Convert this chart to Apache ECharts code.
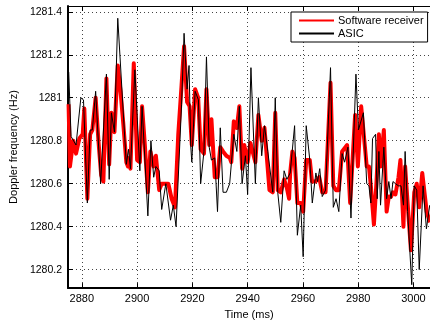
<!DOCTYPE html>
<html>
<head>
<meta charset="utf-8">
<script src="https://cdn.jsdelivr.net/npm/echarts@6/dist/echarts.min.js"></script>
<style>
    html, body { margin: 0; padding: 0; background: #fff; }
    #chart { width: 430px; height: 325px; }
</style>
</head>
<body>
<div id="chart"></div>
<script>
// tick positions
var xTicks = [2880, 2900, 2920, 2940, 2960, 2980, 3000];
var yTicks = [1280.2, 1280.4, 1280.6, 1280.8, 1281, 1281.2, 1281.4];

// software receiver (red)
var swTime = [2875.2, 2875.7, 2876.9, 2877.9, 2879.1, 2880.3, 2880.9, 2882.0, 2883.0, 2883.8, 2885.0, 2886.0, 2887.0, 2887.8,
    2888.9, 2889.9, 2890.7, 2891.8, 2893.0, 2894.0, 2895.0, 2896.1, 2896.7, 2897.0, 2897.6, 2898.8, 2900.0, 2901.0,
    2901.8, 2902.8, 2903.9, 2904.8, 2906.0, 2906.8, 2908.0, 2908.9, 2910.4, 2911.3, 2912.5, 2913.7, 2914.9, 2916.1,
    2917.0, 2918.1, 2919.0, 2919.8, 2921.0, 2922.1, 2923.0, 2924.2, 2925.1, 2926.1, 2926.9, 2928.1, 2929.1, 2930.1,
    2931.1, 2932.3, 2933.5, 2934.1, 2935.0, 2936.1, 2937.0, 2938.0, 2938.8, 2940.0, 2941.0, 2942.8, 2943.9, 2945.1,
    2946.1, 2947.9, 2949.1, 2950.0, 2950.9, 2952.0, 2953.2, 2954.2, 2955.0, 2955.4, 2956.2, 2957.0, 2958.0, 2959.2,
    2960.1, 2961.2, 2962.5, 2963.3, 2964.6, 2965.9, 2967.0, 2968.2, 2970.0, 2971.0, 2972.0, 2973.0, 2974.2, 2976.0,
    2977.1, 2978.9, 2979.9, 2981.1, 2983.1, 2983.9, 2984.6, 2985.7, 2986.6, 2987.5, 2988.1, 2989.3, 2990.3, 2991.1,
    2991.9, 2992.6, 2993.5, 2994.6, 2995.3, 2996.4, 2997.0, 2997.9, 2999.1, 3000.3, 3001.2, 3002.1, 3003.2, 3004.8, 3006.0];
var swFreq = [1280.97, 1280.68, 1280.80, 1280.74, 1280.81, 1280.83, 1280.95, 1280.53, 1280.83, 1280.85, 1281.00, 1280.80, 1280.64, 1280.61,
    1281.09, 1280.69, 1280.93, 1280.84, 1281.15, 1281.03, 1280.88, 1280.70, 1280.68, 1280.72, 1280.67, 1281.16, 1280.71, 1280.70,
    1280.96, 1280.78, 1280.56, 1280.75, 1280.68, 1280.73, 1280.57, 1280.60, 1280.60, 1280.60, 1280.53, 1280.49, 1280.83, 1281.06,
    1281.24, 1280.98, 1280.96, 1280.78, 1281.04, 1281.00, 1280.76, 1280.74, 1281.04, 1280.78, 1280.90, 1280.63, 1280.63, 1280.77,
    1280.75, 1280.73, 1280.72, 1280.70, 1280.89, 1280.86, 1280.96, 1280.67, 1280.78, 1280.70, 1280.79, 1280.70, 1280.92, 1280.80,
    1280.86, 1280.57, 1280.56, 1280.93, 1280.57, 1280.56, 1280.62, 1280.58, 1280.53, 1280.65, 1280.75, 1280.72, 1280.51, 1280.51,
    1280.47, 1280.71, 1280.71, 1280.61, 1280.61, 1280.63, 1280.56, 1280.56, 1281.07, 1280.59, 1280.57, 1280.57, 1280.75, 1280.78,
    1280.51, 1280.92, 1280.68, 1280.96, 1280.68, 1280.68, 1280.59, 1280.41, 1280.60, 1280.83, 1280.68, 1280.85, 1280.47, 1280.54,
    1280.54, 1280.56, 1280.55, 1280.63, 1280.71, 1280.40, 1280.68, 1280.51, 1280.29, 1280.56, 1280.60, 1280.49, 1280.65, 1280.47, 1280.42];

// ASIC (black)
var asicTime = [2875.25, 2876.1, 2877.9, 2879.65, 2880.6, 2882.0, 2883.0, 2883.8, 2885.0, 2886.8, 2888.9, 2889.9, 2890.7, 2891.8,
    2893.0, 2896.1, 2896.9, 2897.6, 2899.2, 2901.0, 2901.8, 2903.9, 2905.0, 2906.0, 2906.8, 2908.0, 2908.9, 2910.4,
    2912.1, 2913.1, 2914.1, 2916.1, 2917.0, 2918.1, 2918.8, 2919.4, 2919.8, 2921.0, 2922.2, 2923.0, 2924.2, 2925.1,
    2926.1, 2926.9, 2928.1, 2929.1, 2930.1, 2931.1, 2932.3, 2933.5, 2935.0, 2936.1, 2937.0, 2938.0, 2939.2, 2940.0,
    2941.2, 2942.8, 2943.9, 2945.1, 2946.1, 2947.3, 2949.1, 2950.0, 2950.9, 2952.0, 2953.2, 2954.2, 2955.4, 2957.0,
    2958.0, 2959.2, 2960.1, 2961.2, 2962.5, 2963.4, 2964.7, 2965.3, 2966.1, 2967.0, 2968.2, 2970.0, 2971.0, 2972.0,
    2973.0, 2974.2, 2975.1, 2976.3, 2977.4, 2979.2, 2980.1, 2981.9, 2983.1, 2983.9, 2984.6, 2985.2, 2986.3, 2986.9,
    2987.5, 2988.1, 2989.3, 2990.3, 2991.1, 2991.9, 2992.6, 2993.5, 2994.6, 2995.5, 2996.4, 2997.0, 2997.9, 2999.4,
    3000.3, 3001.2, 3002.1, 3003.5, 3004.7, 3005.9];
var asicFreq = [1281.12, 1280.82, 1280.78, 1281.00, 1280.99, 1280.51, 1280.85, 1280.85, 1281.03, 1280.60, 1281.11, 1280.62, 1280.93, 1280.84,
    1281.37, 1280.69, 1280.76, 1280.67, 1281.13, 1280.66, 1280.96, 1280.45, 1280.80, 1280.63, 1280.68, 1280.66, 1280.48, 1280.60,
    1280.43, 1280.50, 1280.40, 1280.97, 1281.30, 1281.04, 1281.15, 1280.78, 1280.70, 1281.03, 1280.99, 1280.60, 1280.75, 1281.19,
    1280.77, 1280.71, 1280.72, 1280.47, 1280.86, 1280.56, 1280.56, 1280.60, 1280.83, 1280.75, 1280.96, 1280.60, 1280.73, 1280.55,
    1281.14, 1280.60, 1281.00, 1280.73, 1280.87, 1280.75, 1280.56, 1281.00, 1280.56, 1280.42, 1280.66, 1280.62, 1280.65, 1280.87,
    1280.36, 1280.50, 1280.26, 1280.87, 1280.71, 1280.51, 1280.65, 1280.61, 1280.67, 1280.54, 1280.57, 1281.14, 1280.49, 1280.53,
    1280.47, 1280.74, 1280.70, 1280.77, 1280.44, 1281.11, 1280.85, 1280.93, 1280.60, 1280.59, 1280.51, 1280.81, 1280.83, 1280.53,
    1280.75, 1280.50, 1280.77, 1280.53, 1280.61, 1280.53, 1280.61, 1280.60, 1280.59, 1280.59, 1280.50, 1280.75, 1280.47, 1280.13,
    1280.59, 1280.57, 1280.20, 1280.59, 1280.39, 1280.50];

var font = "Liberation Sans";

function toPairs(xs, ys){
    var out = [];
    for(var i = 0; i < xs.length; i++){
        out.push([xs[i], ys[i]]);
    }
    return out;
}

function fmtX(v){
    return String(Math.round(v));
}

function fmtY(v){
    return String(parseFloat(v.toFixed(1)));
}

var xMin = 2875, xMax = 3006;
var yMin = 1280.114, yMax = 1281.427;

var gridDots = { show: true, lineStyle: { color: "#444", type: [1, 3], width: 1 } };

var option = {
    animation: false,
    backgroundColor: "#fff",
    grid: { left: 63, right: 0, top: 6, bottom: 28, containLabel: false },
    legend: {
        orient: "vertical",
        left: 291,
        top: 12,
        padding: [3, 4, 3, 7],
        itemGap: 2,
        itemWidth: 35,
        itemHeight: 11,
        backgroundColor: "#fff",
        borderColor: "#000",
        borderWidth: 1,
        borderRadius: 0,
        itemStyle: { opacity: 0 },   // hide the marker, keep the line
        textStyle: { fontFamily: font, fontSize: 11, color: "#000", padding: [0, 0, 0, -1] },
        data: ["Software receiver", "ASIC"]
    },
    xAxis: [{
        type: "value",
        min: xMin,
        max: xMax,
        name: "Time (ms)",
        nameLocation: "middle",
        nameGap: 18,
        nameTextStyle: { fontFamily: font, fontSize: 11, color: "#000" },
        axisLine: { show: true, onZero: false, lineStyle: { color: "#000", width: 2 } },
        axisTick: { show: true, inside: true, length: 5, customValues: xTicks, lineStyle: { color: "#000" } },
        axisLabel: { customValues: xTicks, fontFamily: font, fontSize: 11, color: "#000", margin: 5, formatter: fmtX },
        splitLine: gridDots
    }, {
        type: "value",
        position: "top",
        min: xMin,
        max: xMax,
        axisLine: { show: true, onZero: false, lineStyle: { color: "#000", width: 1 } },
        axisTick: { show: true, inside: true, length: 5, customValues: xTicks, lineStyle: { color: "#000" } },
        axisLabel: { show: false },
        splitLine: { show: false }
    }],
    yAxis: [{
        type: "value",
        min: yMin,
        max: yMax,
        name: "Doppler frequency (Hz)",
        nameLocation: "middle",
        nameGap: 44,
        nameTextStyle: { fontFamily: font, fontSize: 11, color: "#000" },
        axisLine: { show: true, onZero: false, lineStyle: { color: "#000", width: 2 } },
        axisTick: { show: true, inside: true, length: 5, customValues: yTicks, lineStyle: { color: "#000" } },
        axisLabel: { customValues: yTicks, fontFamily: font, fontSize: 10.5, color: "#000", margin: 6, formatter: fmtY },
        splitLine: gridDots
    }],
    series: [{
        name: "Software receiver",
        type: "line",
        xAxisIndex: 0,
        symbol: "none",
        showSymbol: false,
        lineStyle: { color: "#ff0000", width: 4, join: "round" },
        itemStyle: { color: "#ff0000" },
        data: toPairs(swTime, swFreq)
    }, {
        name: "ASIC",
        type: "line",
        xAxisIndex: 0,
        symbol: "none",
        showSymbol: false,
        lineStyle: { color: "#000", width: 1 },
        itemStyle: { color: "#000" },
        data: toPairs(asicTime, asicFreq)
    }]
};

var myChart = echarts.init(document.getElementById("chart"), null, { renderer: "canvas" });
myChart.setOption(option);
</script>
</body>
</html>
